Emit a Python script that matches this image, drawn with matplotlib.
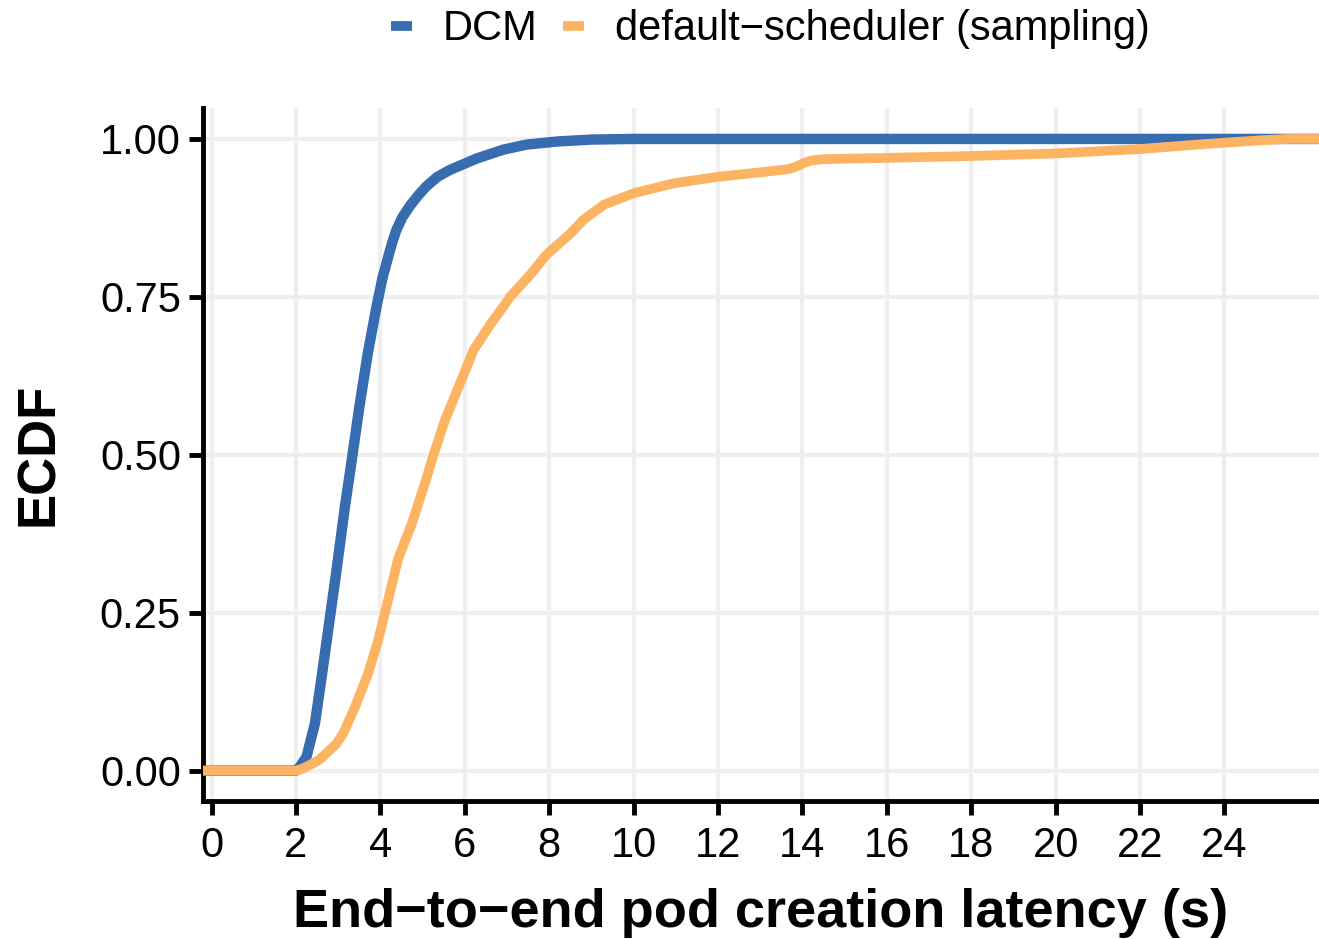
import numpy as np
import matplotlib
matplotlib.use("Agg")
import matplotlib.pyplot as plt
from matplotlib.lines import Line2D

plt.rcParams['font.family'] = ['Liberation Sans', 'DejaVu Sans']

# ECDF curves (latency in s, cumulative fraction)
dcm_x = [-1, 2.0, 2.09, 2.25, 2.45, 2.62, 2.82, 2.95, 3.16, 3.34, 3.5, 3.7, 3.91,
         4.05, 4.18, 4.28, 4.38, 4.52, 4.7, 4.9, 5.09, 5.35, 5.65, 6.28, 6.91, 7.46,
         8.2, 9.0, 10.0, 30]
dcm_y = [0, 0, 0.006, 0.022, 0.075, 0.154, 0.25, 0.312, 0.418, 0.5, 0.575, 0.66, 0.735,
         0.78, 0.812, 0.836, 0.856, 0.876, 0.894, 0.911, 0.925, 0.94, 0.951, 0.969,
         0.983, 0.991, 0.996, 0.999, 1.0, 1.0]

ds_x = [-1, 2.0, 2.15, 2.33, 2.55, 2.73, 2.95, 3.12, 3.40, 3.71, 3.95, 4.11, 4.42,
        4.74, 5.06, 5.26, 5.53, 5.93, 6.21, 6.6, 6.96, 7.07, 7.55, 7.94, 8.5, 8.81,
        9.3, 10.0, 10.97, 12.0, 12.98, 13.65, 13.85, 14.0, 14.2, 14.5, 16.0, 18.0,
        20.0, 22.0, 23.25, 24.0, 24.9, 25.5, 30]
ds_y = [0, 0, 0.003, 0.009, 0.017, 0.028, 0.042, 0.059, 0.101, 0.154, 0.207, 0.25, 0.335,
        0.39, 0.456, 0.50, 0.555, 0.62, 0.666, 0.706, 0.739, 0.75, 0.785, 0.817, 0.85,
        0.872, 0.896, 0.914, 0.930, 0.940, 0.947, 0.952, 0.956, 0.961, 0.966, 0.968,
        0.970, 0.973, 0.977, 0.984, 0.9905, 0.994, 0.998, 1.0, 1.0]

series = ['DCM', 'default\u2212scheduler (sampling)']
colors = ['#386CB0', '#FDB462']
x_ticks = list(range(0, 25, 2))
y_ticks = [0.0, 0.25, 0.5, 0.75, 1.0]

fig = plt.figure(figsize=(13.19, 9.39), dpi=100)
ax = fig.add_axes([0.154, 0.147, 0.846, 0.738])

ax.plot(dcm_x, dcm_y, color=colors[0], lw=7.5, solid_capstyle='butt',
        solid_joinstyle='round', zorder=3)
ax.plot(ds_x, ds_y, color=colors[1], lw=7, solid_capstyle='butt',
        solid_joinstyle='round', zorder=3)

ax.set_xlim(-0.2, 26.24)
ax.set_ylim(-0.048, 1.049)
ax.set_xticks(x_ticks)
ax.set_yticks(y_ticks)
ax.set_yticklabels(['%.2f' % v for v in y_ticks])

ax.grid(True, color='#EFEFEF', lw=3)
ax.set_axisbelow(True)
for s in ['top', 'right']:
    ax.spines[s].set_visible(False)
for s in ['left', 'bottom']:
    ax.spines[s].set_linewidth(3.5)
    ax.spines[s].set_color('black')
ax.tick_params(axis='both', length=10, width=3.5, labelsize=30, color='black',
               labelcolor='black', pad=6)
ax.tick_params(axis='x', pad=8)

ax.set_xlabel('End\u2212to\u2212end pod creation latency (s)', fontsize=39,
              fontweight='bold', labelpad=16)
ax.set_ylabel('ECDF', fontsize=38, fontweight='bold', labelpad=26)

handles = [Line2D([], [], color=c, lw=7, solid_capstyle='butt') for c in colors]
fig.legend(handles, series, loc='upper center', bbox_to_anchor=(0.584, 1.03),
           ncol=2, frameon=False, fontsize=30, handlelength=0.5, handletextpad=0.75,
           columnspacing=0.6)

fig.savefig('out.png', dpi=100)
